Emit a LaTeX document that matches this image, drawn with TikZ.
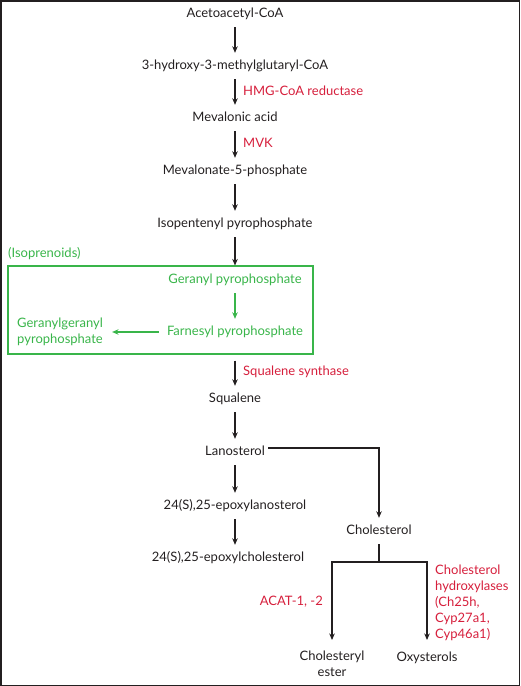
\documentclass[tikz,border=0pt]{standalone}
\usepackage{fontspec}
\setmainfont{Lato}
\usetikzlibrary{arrows.meta}
\definecolor{ink}{RGB}{35,31,32}
\definecolor{enz}{RGB}{214,31,60}
\definecolor{iso}{RGB}{57,181,74}
\tikzset{
  txt/.style={font=\fontsize{13}{16}\selectfont, text=ink, inner xsep=3pt, inner ysep=7pt, text height=9.5pt, text depth=2.5pt},
  gtxt/.style={txt, text=iso},
  lbl/.style={font=\fontsize{13}{16}\selectfont, text=enz, inner sep=0pt},
  arr/.style={draw=ink, line width=1.1pt, -{Stealth[length=6.5pt,width=5.5pt]}},
  garr/.style={draw=iso, line width=1.1pt, -{Stealth[length=6.5pt,width=5.5pt]}},
}
\begin{document}
\begin{tikzpicture}[x=1pt,y=-1pt]
\useasboundingbox (0,0) rectangle (520,686);
\draw[ink, line width=1.5pt] (0.75,0.75) rectangle (519.25,685.25);

\node[txt] (aca) at (235,14) {Acetoacetyl-CoA};
\node[txt] (hmg) at (235,66) {3-hydroxy-3-methylglutaryl-CoA};
\node[txt] (mva) at (235,118) {Mevalonic acid};
\node[txt] (m5p) at (235,171) {Mevalonate-5-phosphate};
\node[txt] (ipp) at (235,224) {Isopentenyl pyrophosphate};

\node[draw=iso, line width=1.1pt, minimum width=305pt, minimum height=88pt, inner sep=0pt] (box) at (160.5,310) {};
\node[gtxt, anchor=west, inner xsep=0pt] (isop) at (8,254) {(Isoprenoids)};
\node[gtxt, inner xsep=8pt] (gpp) at (235,280) {Geranyl pyrophosphate};
\node[gtxt, inner xsep=8pt] (fpp) at (235,332) {Farnesyl pyrophosphate};
\node[gtxt, anchor=west, align=left, inner xsep=9pt, text height=, text depth=, inner ysep=0pt] (ggpp) at (8,332) {Geranylgeranyl\\pyrophosphate};

\node[txt] (sq) at (235,399) {Squalene};
\node[txt] (lan) at (235,452) {Lanosterol};
\node[txt] (epl) at (235,506) {24(S),25-epoxylanosterol};
\node[txt] (epc) at (228,558) {24(S),25-epoxylcholesterol};
\node[txt] (chol) at (379,531) {Cholesterol};
\node[txt, align=center, anchor=north, text height=, text depth=, inner ysep=0pt] (est) at (332,651) {Cholesteryl\\ester};
\node[txt, anchor=north, inner ysep=0pt] (oxy) at (427,652) {Oxysterols};
\coordinate (j) at (379,562);

\draw[arr] (aca.south) -- (hmg.north);
\draw[arr] (hmg.south) -- (mva.north);
\draw[arr] (mva.south) -- (m5p.north);
\draw[arr] (m5p.south) -- (ipp.north);
\draw[arr] (ipp.south) -- (ipp.south |- box.north);
\draw[garr] (gpp.south) -- (fpp.north);
\draw[garr] (fpp.west) -- (ggpp.east);
\draw[arr, shorten <=6pt] (box.south -| sq.north) -- (sq.north);
\draw[arr] (sq.south) -- (lan.north);
\draw[arr] (lan.south) -- (epl.north);
\draw[arr] (epl.south) -- (epl.south |- epc.north);
\draw[arr] ([yshift=4pt]lan.east) -| (chol.north);
\draw[draw=ink, line width=1.1pt] (chol.south) -- (j);
\draw[arr] (j) -| ([yshift=11pt]est.north);
\draw[arr] (j) -| ([yshift=12pt]oxy.north);

\node[lbl, anchor=west] (l1) at (243,91) {HMG-CoA reductase};
\node[lbl, anchor=west] (l2) at (243,143) {MVK};
\node[lbl, anchor=west] (l3) at (243,372) {Squalene synthase};
\node[lbl, anchor=east] (l4) at (323,602) {ACAT-1, -2};
\node[lbl, anchor=west, align=left] (l5) at (435,603) {Cholesterol\\hydroxylases\\(Ch25h,\\Cyp27a1,\\Cyp46a1)};
\end{tikzpicture}
\end{document}
